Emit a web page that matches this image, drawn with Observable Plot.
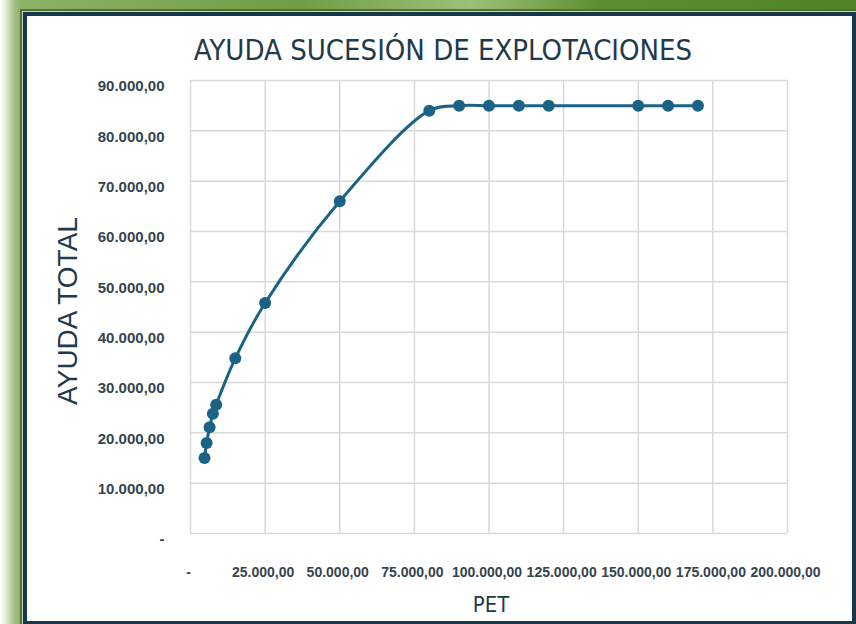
<!DOCTYPE html>
<html><head><meta charset="utf-8">
<script src="https://cdn.jsdelivr.net/npm/d3@7"></script>
<script src="https://cdn.jsdelivr.net/npm/@observablehq/plot@0.6"></script>
<style>
html,body{margin:0;padding:0;background:#fff;}
#stage{position:relative;width:856px;height:624px;overflow:hidden;background:#fff;}
#topband{position:absolute;left:0;top:0;width:856px;height:11px;background:linear-gradient(to right,#8fb36a 0%,#6f9d45 35%,#9cc07a 55%,#5d8f30 70%,#4f8526 100%);}
#leftband{position:absolute;left:0;top:0;width:22px;height:624px;background:linear-gradient(to right,#ffffff 0%,#e6eedc 25%,#a9c48c 60%,#8fb070 90%);}
#darkgreen{position:absolute;left:20px;top:9px;width:840px;height:620px;border-left:2px solid #566f2a;border-top:2px solid #566f2a;}
#frame{position:absolute;left:23px;top:12px;width:825px;height:605px;border:4px solid #17384b;background:#fff;box-shadow:0 0 0 1px #c9cfc9;}
#chart{position:absolute;left:0;top:0;}
.t{position:absolute;color:#1f3a4b;white-space:nowrap;}
#title{left:443px;top:50px;transform:translate(-50%,-50%);font:29px "Liberation Sans Narrow","Arial Narrow","DejaVu Sans Condensed",sans-serif;}
#ylab{left:68px;top:311px;transform:translate(-50%,-50%) rotate(-90deg);font:28px "Liberation Sans",Arial,sans-serif;}
#xlab{left:491px;top:604px;transform:translate(-50%,-50%);font:22px "Liberation Sans Narrow","Arial Narrow","DejaVu Sans Condensed",sans-serif;}
</style></head><body>
<div id="stage">
  <div id="topband"></div>
  <div id="leftband"></div>
  <div id="darkgreen"></div>
  <div id="frame"></div>
  <div id="chart"></div>
  <div class="t" id="title">AYUDA SUCESIÓN DE EXPLOTACIONES</div>
  <div class="t" id="ylab">AYUDA TOTAL</div>
  <div class="t" id="xlab">PET</div>
</div>
<script>
const pet   = [4700, 5400, 6400, 7500, 8600, 15000, 25000, 50000, 80000, 90000, 100000, 110000, 120000, 150000, 160000, 170000];
const ayuda = [15000, 18000, 21100, 23800, 25600, 34800, 45800, 66000, 84000, 85000, 85000, 85000, 85000, 85000, 85000, 85000];
const xTicks = [0, 25000, 50000, 75000, 100000, 125000, 150000, 175000, 200000];
const yTicks = [0, 10000, 20000, 30000, 40000, 50000, 60000, 70000, 80000, 90000];

const data = pet.map((p, i) => ({pet: p, ayuda: ayuda[i]}));
const es = d3.formatLocale({decimal: ",", thousands: ".", grouping: [3], currency: ["", ""]});
const fmt = es.format(",.2f");
const tickFmt = d => d === 0 ? "-" : fmt(d);

const lineColor = "#1b6384";
const labelColor = "#34444f";

const chart = Plot.plot({
  width: 856,
  height: 624,
  marginLeft: 190,
  marginRight: 69,
  marginTop: 80,
  marginBottom: 91,
  style: {background: "transparent", fontFamily: "'Liberation Sans', Arial, sans-serif"},
  x: {domain: [0, 200000]},
  y: {domain: [0, 90000]},
  marks: [
    Plot.gridX(xTicks, {stroke: "#d9d9d9", strokeOpacity: 1, strokeWidth: 1.5}),
    Plot.gridY(yTicks, {stroke: "#d9d9d9", strokeOpacity: 1, strokeWidth: 1.5}),
    Plot.axisX(xTicks, {tickSize: 0, tickPadding: 34, tickFormat: tickFmt, fontSize: 14, fontWeight: "bold", fill: labelColor, label: null, dx: -2}),
    Plot.axisY(yTicks, {tickSize: 0, tickPadding: 26, tickFormat: tickFmt, fontSize: 15, fontWeight: "bold", fill: labelColor, label: null, dy: 6}),
    Plot.line(data, {x: "pet", y: "ayuda", curve: "catmull-rom", stroke: lineColor, strokeWidth: 3}),
    Plot.dot(data, {x: "pet", y: "ayuda", r: 6, fill: lineColor, stroke: null})
  ]
});
document.getElementById("chart").appendChild(chart);
</script>
</body></html>
